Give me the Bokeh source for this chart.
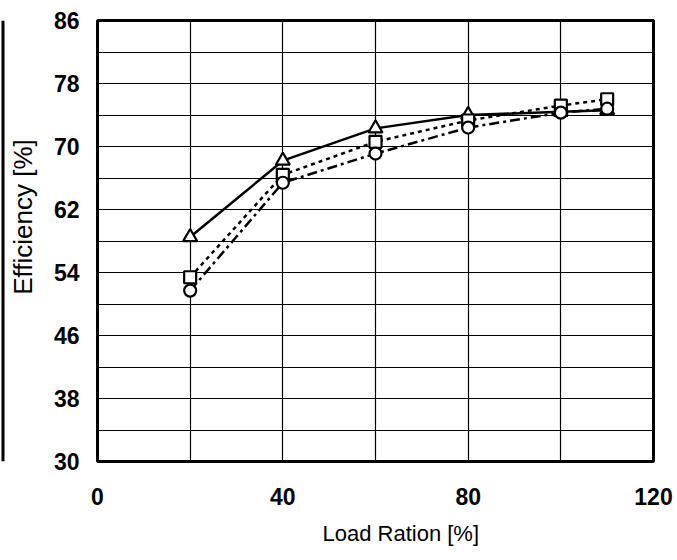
import math
from bokeh.plotting import figure
from bokeh.layouts import row
from bokeh.models import FixedTicker, Range1d, Label, Title, Span
from bokeh.embed import file_html
from bokeh.resources import INLINE

# ---- data ----
load = [20, 40, 60, 80, 100, 110]
eff_triangle = [58.5, 68.2, 72.3, 74.0, 74.4, 74.6]
eff_square = [53.4, 66.4, 70.6, 73.3, 75.2, 76.0]
eff_circle = [51.7, 65.4, 69.1, 72.4, 74.3, 74.8]

x_ticks = [0, 40, 80, 120]
x_grid = [20, 40, 60, 80, 100]
y_ticks = [30, 38, 46, 54, 62, 70, 78, 86]
y_grid = [34, 38, 42, 46, 50, 54, 58, 62, 66, 70, 74, 78, 82]

x_label = "Load Ration [%]"
y_label = "Efficiency [%]"

FONT = "Liberation Sans"
H = 560
LAB_W = 40
FRAME_TOP = 20
FRAME_BOTTOM = 462

# ---- narrow strip holding the y-axis title (and the scan's left edge line) ----
# its frame is aligned with the main chart's frame, so map y to page pixels from the bottom
lab = figure(width=LAB_W, height=H, output_backend="svg", toolbar_location=None,
             x_range=Range1d(0, LAB_W), y_range=Range1d(H - FRAME_BOTTOM, H - FRAME_TOP),
             min_border=0, x_axis_type=None, y_axis_type=None)
lab.outline_line_color = None
lab.grid.visible = False
lab.add_layout(Span(location=2.5, dimension="height", line_color="black", line_width=3))
lab.add_layout(Label(text=y_label, x=22, y=H - 217, angle=math.pi / 2,
                     text_align="center", text_baseline="middle",
                     text_font=FONT, text_font_size="26px", text_color="black"))

# ---- main chart ----
p = figure(width=677 - LAB_W, height=H, output_backend="svg", toolbar_location=None,
           x_range=Range1d(0, 120), y_range=Range1d(30, 86),
           min_border_left=97 - LAB_W, min_border_right=24, min_border_top=FRAME_TOP,
           min_border_bottom=H - FRAME_BOTTOM)

p.outline_line_color = "black"
p.outline_line_width = 3
p.background_fill_color = "white"
p.border_fill_color = "white"

for ax, ticks in ((p.xaxis[0], x_ticks), (p.yaxis[0], y_ticks)):
    ax.ticker = FixedTicker(ticks=ticks)
    ax.major_tick_line_color = None
    ax.minor_tick_line_color = None
    ax.axis_line_color = None
    ax.major_label_text_font = FONT
    ax.major_label_text_font_style = "bold"
    ax.major_label_text_font_size = "23px"
    ax.major_label_text_color = "black"
    ax.major_tick_in = 0
    ax.major_tick_out = 0
p.xaxis.major_label_standoff = 26
p.yaxis.major_label_standoff = 18

p.xgrid.ticker = FixedTicker(ticks=x_grid)
p.ygrid.ticker = FixedTicker(ticks=y_grid)
for g in (p.xgrid[0], p.ygrid[0]):
    g.grid_line_color = "black"
    g.grid_line_width = 1.2
    g.grid_line_alpha = 1.0

p.add_layout(Title(text=x_label, align="left", offset=225, standoff=26,
                   vertical_align="top",
                   text_font=FONT, text_font_size="22px", text_font_style="normal",
                   text_color="black"), "below")

# series
p.line(load, eff_triangle, line_color="black", line_width=2.5)
p.scatter(load, eff_triangle, marker="triangle", size=14, line_color="black",
          line_width=2.2, fill_color="white")

p.line(load, eff_square, line_color="black", line_width=2.5, line_dash="4 4")
p.scatter(load, eff_square, marker="square", size=12, line_color="black",
          line_width=2.2, fill_color="white")

p.line(load, eff_circle, line_color="black", line_width=2.5, line_dash="10 4 3 4")
p.scatter(load, eff_circle, marker="circle", size=12, line_color="black",
          line_width=2.2, fill_color="white")

layout = row(lab, p, spacing=0)
open("out.html", "w").write(file_html(layout, INLINE))
